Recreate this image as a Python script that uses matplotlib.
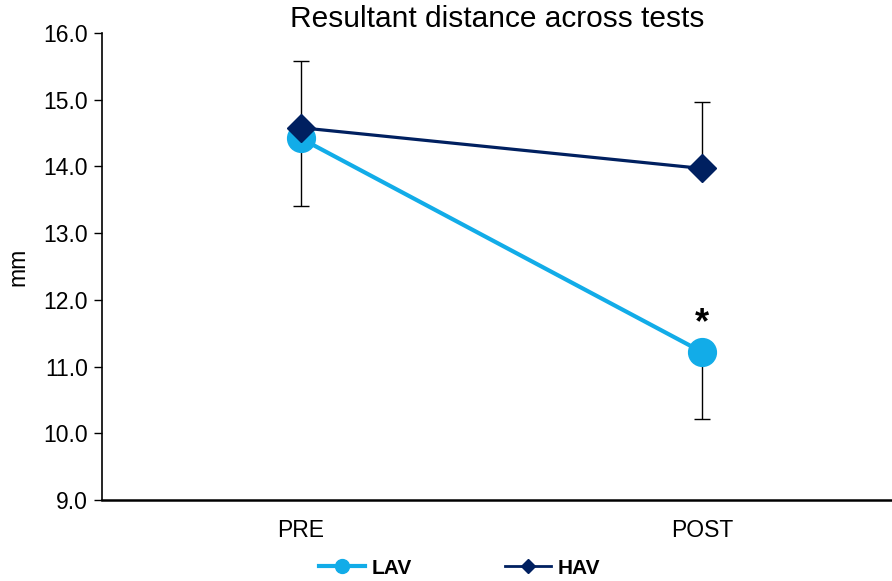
import matplotlib
matplotlib.use("Agg")
import matplotlib.pyplot as plt

plt.rcParams['font.family'] = ['Liberation Sans', 'DejaVu Sans']

# Data
tests = ['PRE', 'POST']
lav_mean = [14.42, 11.22]
lav_sd = [1.01, 1.01]
hav_mean = [14.58, 13.97]
hav_sd = [1.00, 1.00]

lav_color = '#12ACE8'
hav_color = '#002060'

fig = plt.figure(figsize=(8.92, 5.81), dpi=100)
ax = fig.add_axes([0.1143, 0.1394, 0.8857, 0.8038])

x = list(range(len(tests)))

# Error bars: LAV downward, HAV upward
ax.errorbar(x, lav_mean, yerr=[lav_sd, [0] * len(x)], fmt='none',
            ecolor='black', elinewidth=1, capsize=6, capthick=1, zorder=1)
ax.errorbar(x, hav_mean, yerr=[[0] * len(x), hav_sd], fmt='none',
            ecolor='black', elinewidth=1, capsize=6, capthick=1, zorder=1)

ax.plot(x, lav_mean, color=lav_color, lw=3, marker='o', markersize=20,
        label='LAV', zorder=2)
ax.plot(x, hav_mean, color=hav_color, lw=2.3, marker='D', markersize=14,
        label='HAV', zorder=3)

# Significance marker above LAV post
ax.annotate('*', xy=(x[1], lav_mean[1]), xytext=(0, 20), textcoords='offset points',
            ha='center', va='center', fontsize=26, fontweight='bold')

ax.set_xlim(-0.496, 1.474)
ax.set_ylim(9.0, 16.0)
ax.set_yticks([9, 10, 11, 12, 13, 14, 15, 16])
ax.set_yticklabels([f'{v:.1f}' for v in range(9, 17)])
ax.set_xticks(x)
ax.set_xticklabels(tests)
ax.tick_params(axis='y', direction='out', length=6, width=1, labelsize=16.5, pad=4)
ax.tick_params(axis='x', length=0, labelsize=16.5, pad=14)

for side in ['top', 'right']:
    ax.spines[side].set_visible(False)
ax.spines['left'].set_linewidth(1.2)
ax.spines['bottom'].set_linewidth(1.8)

ax.set_ylabel('mm', fontsize=16.5, labelpad=10)
ax.set_title('Resultant distance across tests', fontsize=21.5, pad=4)

# Legend below the axis
handles = [
    plt.Line2D([], [], color=lav_color, lw=3, marker='o', markersize=10),
    plt.Line2D([], [], color=hav_color, lw=2, marker='D', markersize=7),
]
leg = fig.legend(handles, ['LAV', 'HAV'], loc='center', bbox_to_anchor=(0.515, 0.022),
                 ncol=2, frameon=False, handlelength=2.2, handletextpad=0.3,
                 columnspacing=4.5, prop={'weight': 'bold', 'size': 15})

plt.savefig('out.png', dpi=100)
plt.close()
